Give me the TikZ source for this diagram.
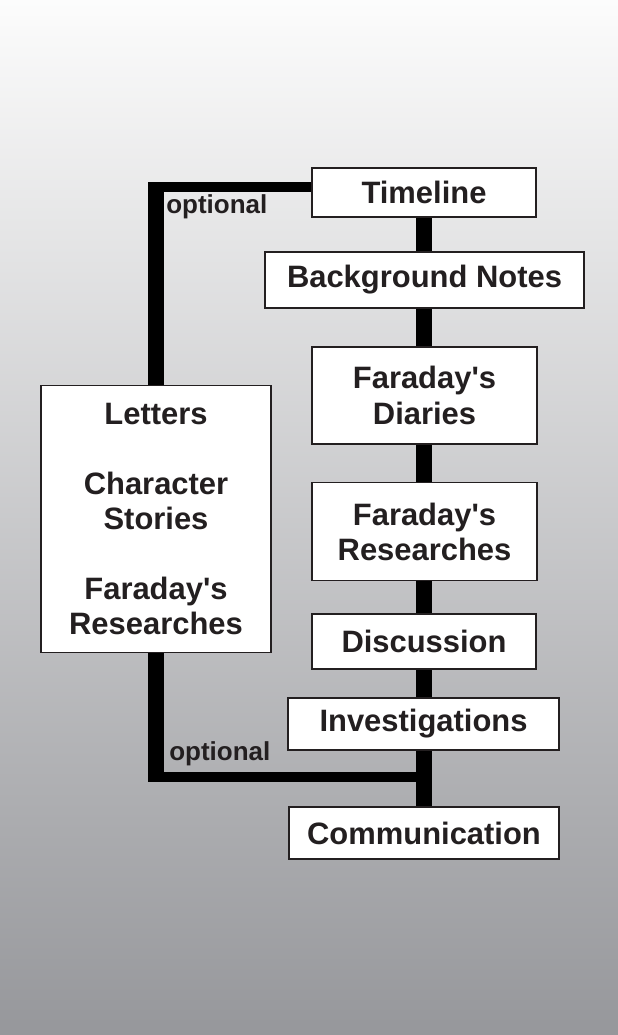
\documentclass[tikz,border=0pt]{standalone}
\usepackage{fontspec}
\setmainfont{Liberation Sans}
\usetikzlibrary{positioning}
\definecolor{bgtop}{RGB}{252,252,252}
\definecolor{bgbot}{RGB}{150,151,155}
\definecolor{inkdark}{RGB}{35,31,32}
\pgfdeclarelayer{background}
\pgfdeclarelayer{lines}
\pgfsetlayers{background,lines,main}
\newcommand{\fdy}{Faraday\textquotesingle s}

\begin{document}
\begin{tikzpicture}[
    stage/.style={rectangle, draw=inkdark, line width=0.8pt, fill=white, text=inkdark,
      font=\fontsize{22}{25}\selectfont\bfseries, align=center, inner sep=0},
    note/.style={text=inkdark, font=\fontsize{18.5}{21}\selectfont\bfseries, inner sep=0, anchor=west},
    vline/.style={line width=0.39cm, black},
    hline/.style={line width=0.26cm, black}
  ]
  \useasboundingbox (0,0) rectangle (15.45,25.875);
  \begin{pgfonlayer}{background}
    \shade[top color=bgtop, bottom color=bgbot] (0,0) rectangle (15.45,25.875);
  \end{pgfonlayer}

  \node[stage, minimum width=5.6cm, minimum height=1.225cm] (tl) at (10.6,21.0625) {Timeline};
  \node[stage, minimum width=7.975cm, minimum height=1.4cm] (bg) at (10.6125,18.875) {Background Notes};
  \node[stage, minimum width=5.625cm, minimum height=2.425cm] (di) at (10.6125,15.9875) {\fdy\\Diaries};
  \node[stage, minimum width=5.625cm, minimum height=2.45cm] (re) at (10.6125,12.5825) {\fdy\\Researches};
  \node[stage, minimum width=5.6cm, minimum height=1.375cm] (ds) at (10.6,9.8375) {Discussion};
  \node[stage, minimum width=6.775cm, minimum height=1.3cm] (iv) at (10.5875,7.775) {Investigations};
  \node[stage, minimum width=6.75cm, minimum height=1.3cm] (cm) at (10.6,5.05) {Communication};
  \node[stage, minimum width=5.75cm, minimum height=6.675cm] (lt) at (3.9,12.9)
    {Letters\\[25pt]Character\\Stories\\[25pt]\fdy\\Researches};

  \node[note] (opttop) at (4.15,20.7) {optional};
  \node[note] (optlow) at (4.225,7.0375) {optional};

  % connectors behind the boxes
  \coordinate (topbend) at (3.9,21.2);
  \coordinate (lowbend) at (3.9,6.45);
  \begin{pgfonlayer}{lines}
    \draw[vline] (tl) -- (cm);
    \draw[vline] (lt.north) -- ([yshift=0.13cm]topbend);
    \draw[hline] ([xshift=-0.2cm]topbend) -- (topbend -| tl.west);
    \draw[vline] (lt.south) -- ([yshift=-0.13cm]lowbend);
    \draw[hline] ([xshift=-0.2cm]lowbend) -- (lowbend -| cm.north);
  \end{pgfonlayer}
\end{tikzpicture}
\end{document}
